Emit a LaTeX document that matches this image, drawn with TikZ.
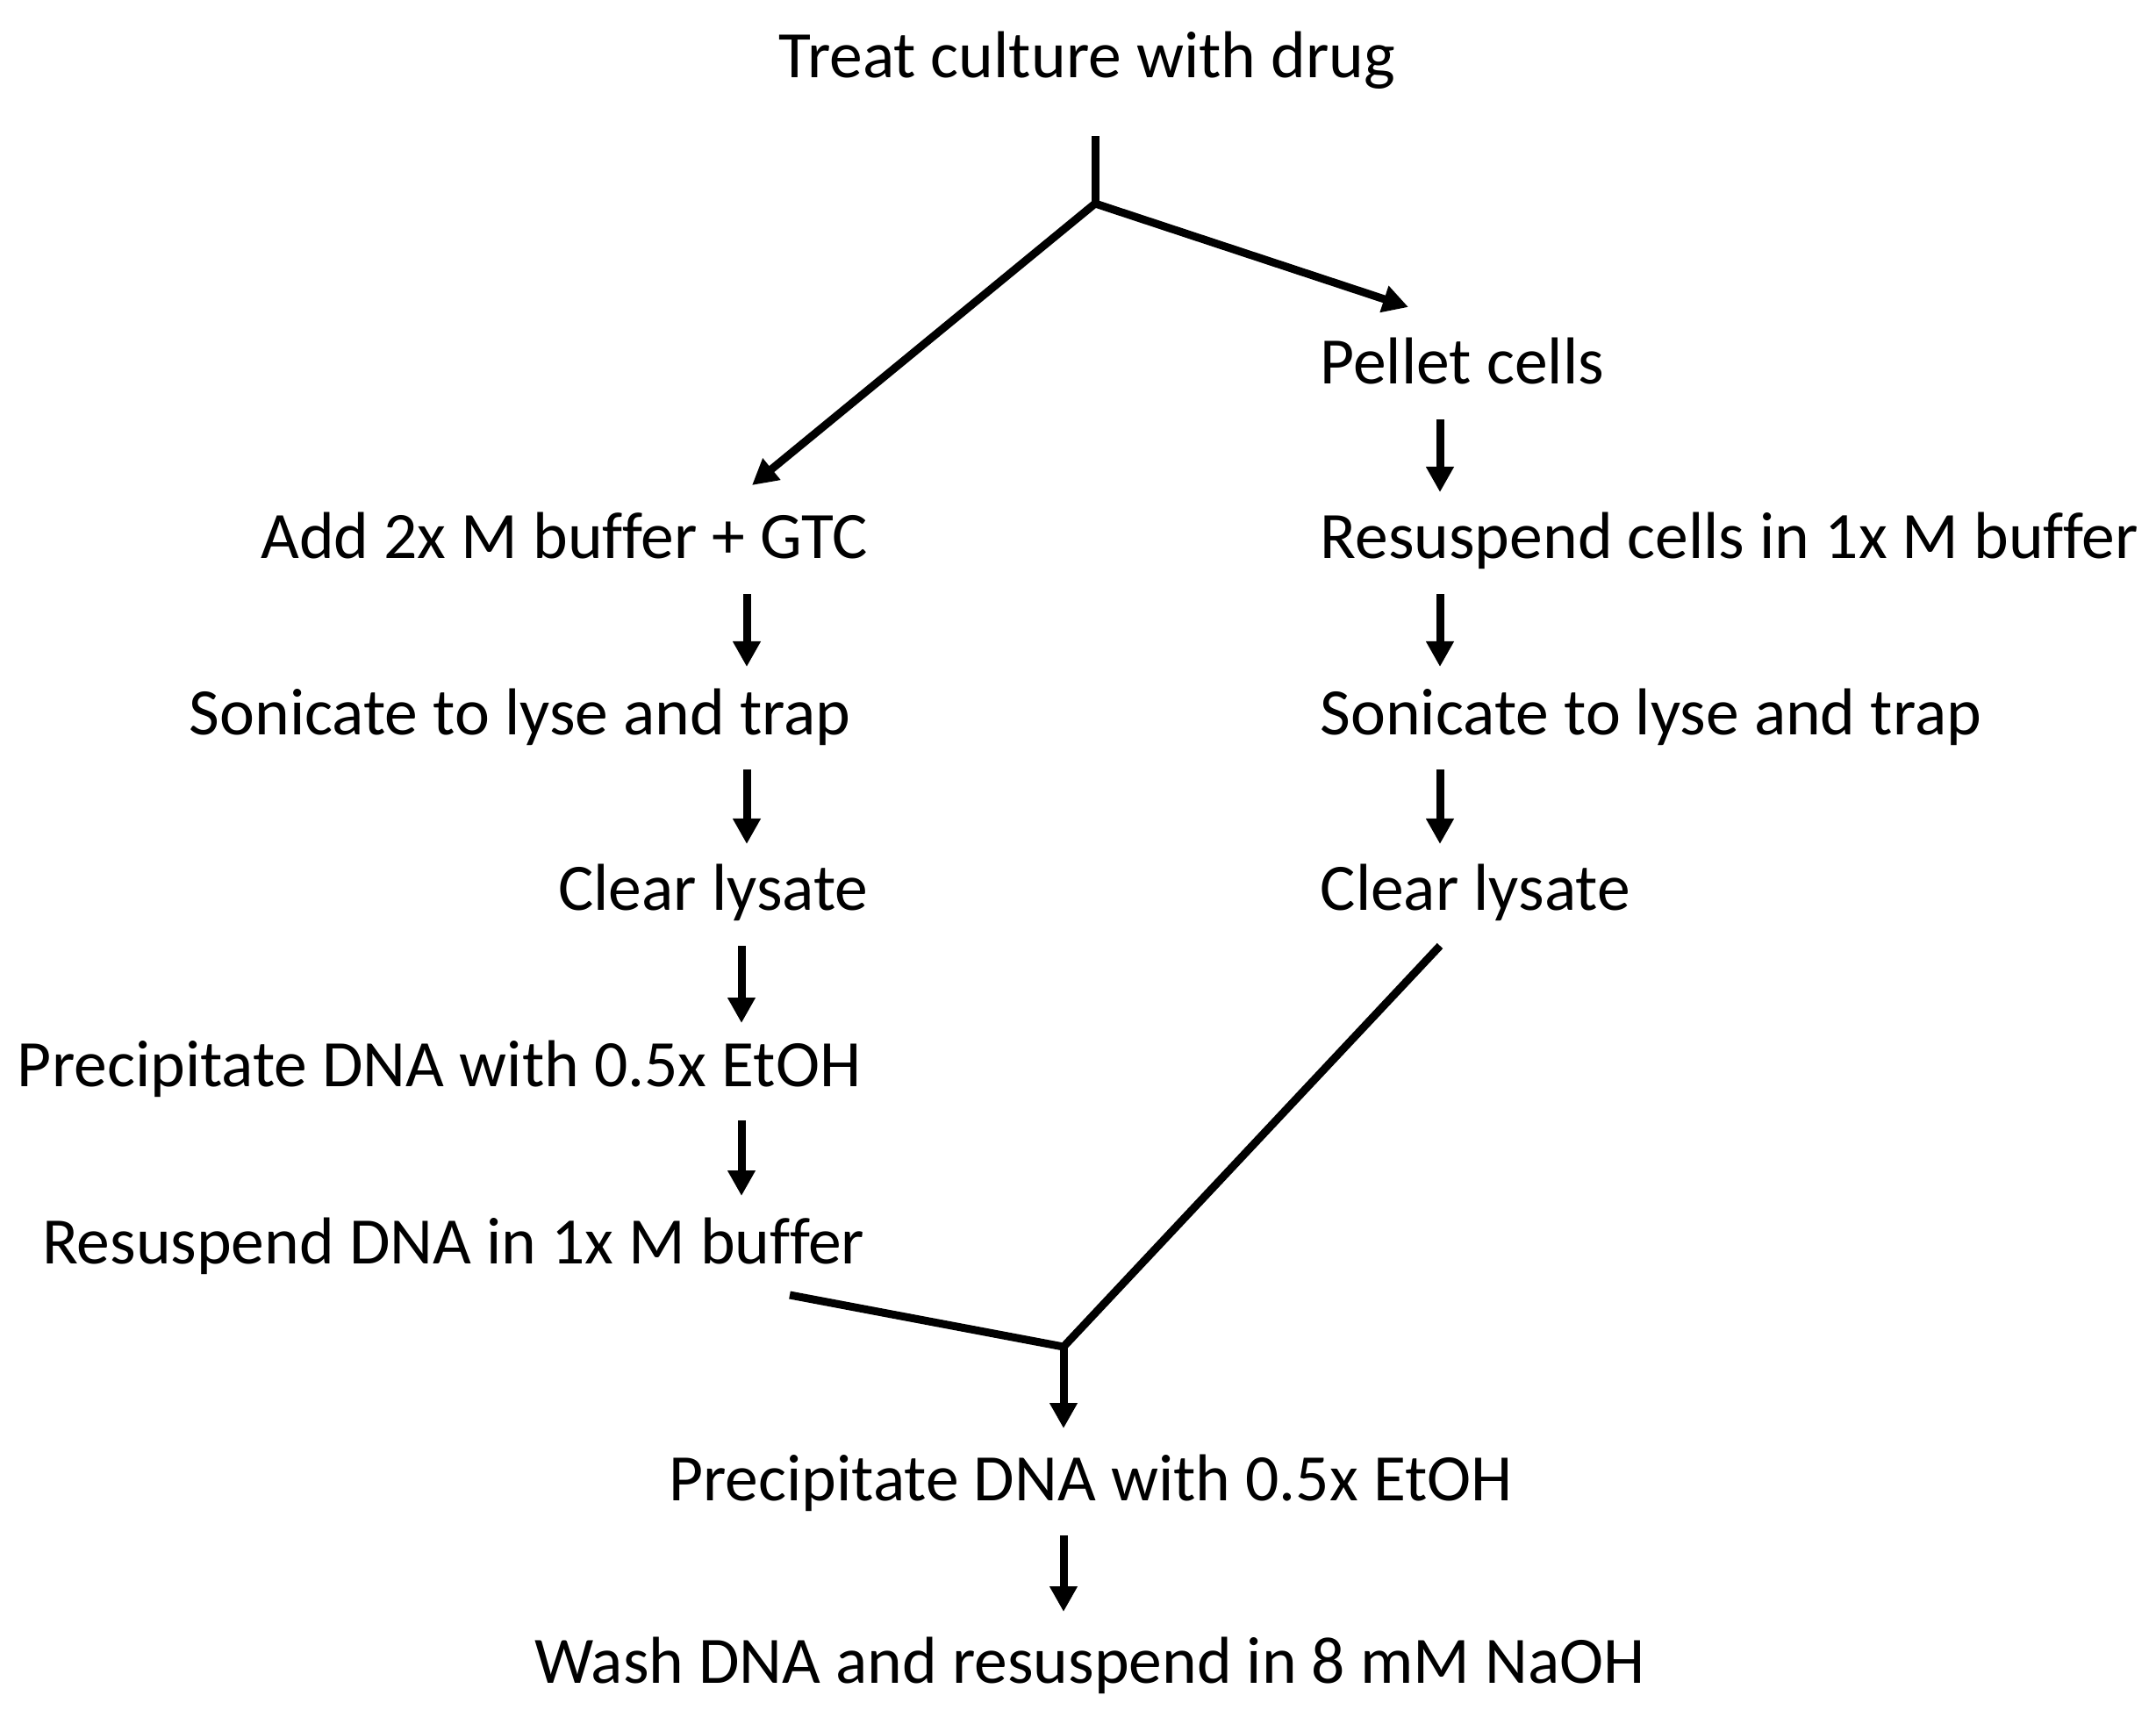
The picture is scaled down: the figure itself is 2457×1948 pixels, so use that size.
\documentclass[tikz,border=0pt]{standalone}
\usepackage{fontspec}
\setmainfont{Carlito}[Ligatures=NoCommon]
\usetikzlibrary{arrows.meta}
\begin{document}
\begin{tikzpicture}[x=0.01cm,y=-0.01cm,
  lbl/.style={inner sep=0pt, font=\fontsize{21.5}{25}\selectfont},
  conn/.style={line width=0.09cm, line cap=butt, line join=miter},
  arr/.style={conn, -{Triangle[length=0.29cm,width=0.30cm]}}]
\useasboundingbox (0,0) rectangle (2457,1948);
% texts
\node[lbl, anchor=base] (treat) at (1239,88) {Treat culture with drug};
\node[lbl, anchor=base west] (pellet) at (1504,437) {Pellet cells};
\node[lbl, anchor=base west] (rescells) at (1504,636) {Resuspend cells in 1x M buffer};
\node[lbl, anchor=base west] (sonR) at (1504,837) {Sonicate to lyse and trap};
\node[lbl, anchor=base west] (clearR) at (1504,1037) {Clear lysate};
\node[lbl, anchor=base east] (add) at (990,636) {Add 2x M buffer + GTC};
\node[lbl, anchor=base east] (sonL) at (970,837) {Sonicate to lyse and trap};
\node[lbl, anchor=base east] (clearL) at (990,1037) {Clear lysate};
\node[lbl, anchor=base east] (precL) at (982,1238) {Precipitate DNA with 0.5x EtOH};
\node[lbl, anchor=base east] (resdna) at (986,1440) {Resuspend DNA in 1x M buffer};
\node[lbl, anchor=base] (precB) at (1243,1710) {Precipitate DNA with 0.5x EtOH};
\node[lbl, anchor=base] (wash) at (1242,1918) {Wash DNA and resuspend in 8 mM NaOH};
% connector points
\coordinate (top0) at (1248,155);
\coordinate (split) at (1248,232);
\coordinate (pelletIn) at (1605,350);
\coordinate (addIn) at (857,553);
\coordinate (r1a) at (1641,478); \coordinate (r1b) at (1641,561);
\coordinate (r2a) at (1641,677); \coordinate (r2b) at (1641,760);
\coordinate (r3a) at (1641,877); \coordinate (r3b) at (1641,962);
\coordinate (l1a) at (851,677); \coordinate (l1b) at (851,760);
\coordinate (l2a) at (851,877); \coordinate (l2b) at (851,962);
\coordinate (l3a) at (845,1078); \coordinate (l3b) at (845,1166);
\coordinate (l4a) at (845,1277); \coordinate (l4b) at (845,1363);
\coordinate (clearROut) at (1641,1078);
\coordinate (resdnaOut) at (900,1476);
\coordinate (merge) at (1212,1535);
\coordinate (precBIn) at (1212,1628);
\coordinate (b2a) at (1212,1750); \coordinate (b2b) at (1212,1837);
% connectors
\draw[conn] (top0) -- (split);
\draw[arr] (split) -- (pelletIn);
\draw[arr] (split) -- (addIn);
\draw[arr] (r1a) -- (r1b);
\draw[arr] (r2a) -- (r2b);
\draw[arr] (r3a) -- (r3b);
\draw[arr] (l1a) -- (l1b);
\draw[arr] (l2a) -- (l2b);
\draw[arr] (l3a) -- (l3b);
\draw[arr] (l4a) -- (l4b);
\draw[conn] (clearROut) -- (merge) -- (resdnaOut);
\draw[arr] (merge) -- (precBIn);
\draw[arr] (b2a) -- (b2b);
\end{tikzpicture}
\end{document}
